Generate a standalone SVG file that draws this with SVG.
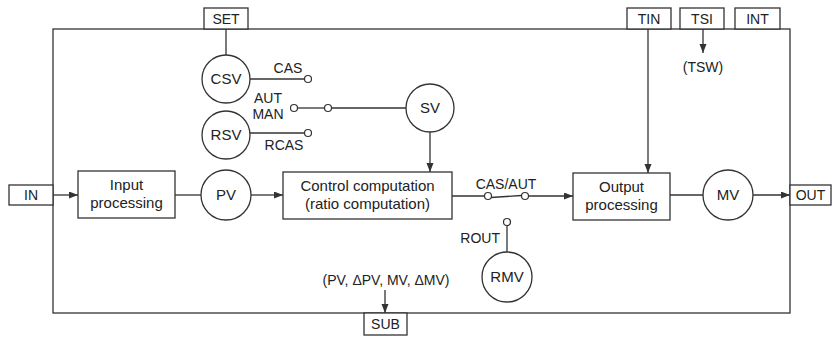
<svg xmlns="http://www.w3.org/2000/svg" width="832" height="340" viewBox="0 0 832 340">
<style>
  .bg { fill: #ffffff; }
  .frame { fill: none; stroke: #333; stroke-width: 1.3; }
  .box { fill: #ffffff; stroke: #333; stroke-width: 1.3; }
  .circ { fill: #ffffff; stroke: #333; stroke-width: 1.3; }
  .sw { fill: #ffffff; stroke: #333; stroke-width: 1.2; }
  .ln { fill: none; stroke: #333; stroke-width: 1.3; }
  .arr { fill: none; stroke: #333; stroke-width: 1.3; marker-end: url(#ah); }
  text { font-family: "Liberation Sans", Arial, sans-serif; font-size: 15px; fill: #222; text-anchor: middle; }
  .sm { font-size: 14px; }
</style>
<defs>
  <marker id="ah" markerWidth="10" markerHeight="8" refX="9" refY="3.5" orient="auto" markerUnits="userSpaceOnUse">
    <path d="M0,0 L9,3.5 L0,7 z" fill="#333"/>
  </marker>
</defs>
<rect class="bg" x="0" y="0" width="832" height="340"/>

<!-- outer block frame -->
<rect id="block-frame" class="frame" x="53" y="29" width="737" height="284"/>

<g id="connectors">
  <!-- SET to CSV -->
  <line class="ln" x1="226" y1="29" x2="226" y2="55"/>
  <!-- CAS branch -->
  <line class="ln" x1="250" y1="79" x2="304.5" y2="79"/>
  <!-- RCAS branch -->
  <line class="ln" x1="250" y1="133" x2="304.5" y2="133"/>
  <!-- AUT/MAN switch to SV -->
  <line class="ln" x1="297.5" y1="108" x2="324.5" y2="108"/>
  <line class="ln" x1="331.5" y1="108" x2="406" y2="108"/>
  <!-- SV to control computation -->
  <line class="arr" x1="430" y1="132" x2="430" y2="172"/>
  <!-- IN to input processing -->
  <line class="arr" x1="53" y1="195" x2="78" y2="195"/>
  <!-- input processing to PV -->
  <line class="ln" x1="175" y1="195" x2="201" y2="195"/>
  <!-- PV to control computation -->
  <line class="arr" x1="251" y1="195" x2="283" y2="195"/>
  <!-- control computation to CAS/AUT switch -->
  <line class="ln" x1="452" y1="196" x2="484.5" y2="196"/>
  <line class="ln" x1="491" y1="197.5" x2="521.5" y2="195.5"/>
  <line class="arr" x1="528.5" y1="196" x2="573" y2="196"/>
  <!-- TIN to output processing -->
  <line class="arr" x1="648" y1="29" x2="648" y2="173"/>
  <!-- TSI to TSW -->
  <line class="arr" x1="703" y1="29" x2="703" y2="53"/>
  <!-- output processing to MV -->
  <line class="ln" x1="670" y1="195" x2="703" y2="195"/>
  <!-- MV to OUT -->
  <line class="arr" x1="753" y1="195" x2="790" y2="195"/>
  <!-- ROUT to RMV -->
  <line class="ln" x1="507" y1="225.5" x2="507" y2="252"/>
  <!-- to SUB -->
  <line class="arr" x1="385" y1="290" x2="385" y2="313"/>
  <!-- switch contacts -->
  <circle class="sw" cx="308" cy="79" r="3.5"/>
  <circle class="sw" cx="308" cy="133" r="3.5"/>
  <circle class="sw" cx="294" cy="108" r="3.5"/>
  <circle class="sw" cx="328" cy="108" r="3.5"/>
  <circle class="sw" cx="488" cy="196" r="3.5"/>
  <circle class="sw" cx="525" cy="196" r="3.5"/>
  <circle class="sw" cx="507" cy="222" r="3.5"/>
  <!-- connector labels -->
  <text class="sm" x="288" y="73">CAS</text>
  <text class="sm" x="268" y="103">AUT</text>
  <text class="sm" x="268" y="119">MAN</text>
  <text class="sm" x="284" y="150">RCAS</text>
  <text class="sm" x="506" y="189">CAS/AUT</text>
  <text class="sm" x="500" y="243" style="text-anchor:end">ROUT</text>
  <text class="sm" x="703" y="72">(TSW)</text>
  <text class="sm" x="386" y="285">(PV, ΔPV, MV, ΔMV)</text>
</g>

<g id="SET"><rect class="box" x="204" y="8" width="44" height="21"/><text class="sm" x="226" y="24">SET</text></g>
<g id="TIN"><rect class="box" x="627" y="8" width="44" height="21"/><text class="sm" x="649" y="24">TIN</text></g>
<g id="TSI"><rect class="box" x="680" y="8" width="44" height="21"/><text class="sm" x="702" y="24">TSI</text></g>
<g id="INT"><rect class="box" x="735" y="8" width="45" height="21"/><text class="sm" x="757.5" y="24">INT</text></g>
<g id="IN"><rect class="box" x="9" y="185" width="44" height="20"/><text class="sm" x="31" y="200">IN</text></g>
<g id="OUT"><rect class="box" x="790" y="185" width="41" height="20"/><text class="sm" x="810.5" y="200">OUT</text></g>
<g id="SUB"><rect class="box" x="364" y="313" width="43" height="22"/><text class="sm" x="385.5" y="329">SUB</text></g>

<g id="CSV"><circle class="circ" cx="226" cy="79" r="24"/><text x="226" y="84">CSV</text></g>
<g id="RSV"><circle class="circ" cx="226" cy="135" r="24"/><text x="226" y="140">RSV</text></g>
<g id="SV"><circle class="circ" cx="430" cy="108" r="24"/><text x="430" y="113">SV</text></g>
<g id="PV"><circle class="circ" cx="226" cy="195" r="25"/><text x="226" y="200">PV</text></g>
<g id="MV"><circle class="circ" cx="728" cy="195" r="25"/><text x="728" y="200">MV</text></g>
<g id="RMV"><circle class="circ" cx="507" cy="277" r="25"/><text x="507" y="282">RMV</text></g>

<g id="input-processing"><rect class="box" x="78" y="171" width="97" height="47"/><text x="126.5" y="190">Input</text><text x="126.5" y="208">processing</text></g>
<g id="control-computation"><rect class="box" x="283" y="172" width="169" height="47"/><text x="367.5" y="191">Control computation</text><text x="367.5" y="209">(ratio computation)</text></g>
<g id="output-processing"><rect class="box" x="573" y="173" width="97" height="47"/><text x="621.5" y="192">Output</text><text x="621.5" y="210">processing</text></g>
</svg>
